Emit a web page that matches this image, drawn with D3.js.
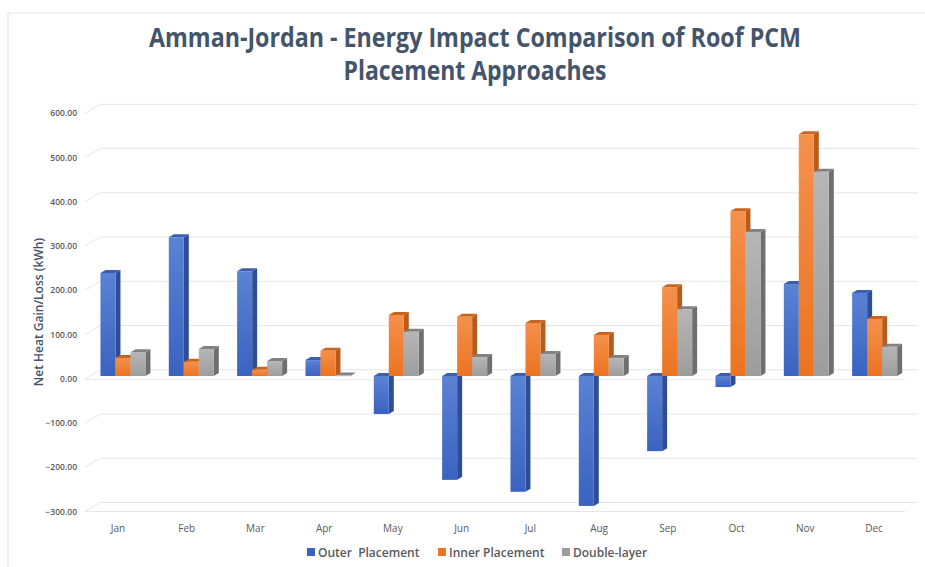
<!DOCTYPE html>
<html>
<head>
<meta charset="utf-8">
<script src="https://cdn.jsdelivr.net/npm/d3@7"></script>
<style>
  html, body { margin: 0; padding: 0; background: #fff; }
  svg { display: block; }
  text { font-family: "Open Sans", "Noto Sans", sans-serif; }
</style>
</head>
<body>
<svg id="chart" width="925" height="567"></svg>
<script>
// Monthly net heat gain/loss (kWh) for three roof PCM placements
const months = ["Jan","Feb","Mar","Apr","May","Jun","Jul","Aug","Sep","Oct","Nov","Dec"];
const outerPlacement = [233, 314, 237, 36, -86, -235, -262, -294, -170, -25, 208, 188];
const innerPlacement = [41, 32, 14, 57, 138, 134, 120, 93, 201, 373, 547, 129];
const doubleLayer    = [54, 61, 34, 1, 100, 43, 50, 41, 151, 326, 462, 66];
const seriesNames = ["Outer  Placement", "Inner Placement", "Double-layer"];
const yTicks = [-300, -200, -100, 0, 100, 200, 300, 400, 500, 600];

const series = [outerPlacement, innerPlacement, doubleLayer];
const palette = [
  { top: "#5a82d4", bottom: "#3a63c0", side: "#2d4d94", cap: "#3b5fae" },
  { top: "#f4904c", bottom: "#eb7421", side: "#b95b1b", cap: "#c8641f" },
  { top: "#b6b6b6", bottom: "#9d9d9d", side: "#6f6f6f", cap: "#828282" }
];

const svg = d3.select("#chart");

// gradients for the front faces
const defs = svg.append("defs");
palette.forEach((p, i) => {
  const g = defs.append("linearGradient").attr("id", "grad" + i)
    .attr("x1", 0).attr("y1", 0).attr("x2", 0).attr("y2", 1);
  g.append("stop").attr("offset", "0%").attr("stop-color", p.top);
  g.append("stop").attr("offset", "100%").attr("stop-color", p.bottom);
});

// outer frame
svg.append("path").attr("d", "M8,567 V13 H925")
  .attr("fill", "none").attr("stroke", "#e3e6ea").attr("stroke-width", 1.2);

// title
const title = svg.append("g").attr("fill", "#44546a")
  .attr("font-weight", 700).attr("font-size", 26).attr("text-anchor", "middle");
const titleLines = ["Amman-Jordan - Energy Impact Comparison of Roof PCM", "Placement Approaches"];
const titleWidths = [652, 263];
titleLines.forEach((t, i) => {
  const el = title.append("text").attr("x", 475).attr("y", 47 + i * 33).text(t);
  const w = el.node().getComputedTextLength();
  if (w > titleWidths[i]) el.attr("textLength", titleWidths[i]).attr("lengthAdjust", "spacingAndGlyphs");
});

// scales: front (labels / floor), bar plane, back wall offset
const yFront = d3.scaleLinear().domain([-300, 600]).range([511.5, 113.3]);
const yBar = d3.scaleLinear().domain([-300, 600]).range([508.6, 110.8]);
const backDx = 15, backDy = -9;
const xLabel = d3.scaleBand().domain(months).range([83.6, 908.4]);
const xBar = d3.scaleBand().domain(months).range([89.8, 909.8]);
const barW = 15, depthX = 5, depthY = -3;

const frontLeft = 85, frontRight = 905, backRight = 918;

// wall gridlines (side wall slant + back wall)
const grid = svg.append("g").attr("stroke", "#e4e6ea").attr("stroke-width", 1).attr("fill", "none");
yTicks.forEach(v => {
  const y = yFront(v);
  grid.append("path").attr("d", `M${frontLeft},${y} L${frontLeft + backDx},${y + backDy} H${backRight}`);
});
// floor front edge and front zero line
grid.append("line").attr("x1", frontLeft).attr("x2", frontRight)
  .attr("y1", yFront(-300)).attr("y2", yFront(-300));
grid.append("line").attr("x1", frontLeft).attr("x2", frontRight)
  .attr("y1", yFront(0) + 1).attr("y2", yFront(0) + 1).attr("stroke", "#e8eaee");

// y tick labels
svg.append("g").attr("font-size", 8.5).attr("font-weight", 600).attr("fill", "#595959").attr("text-anchor", "end")
  .selectAll("text").data(yTicks).join("text")
  .attr("x", 77).attr("y", d => yFront(d) + 3)
  .text(d => d3.format(".2f")(d));

// y axis title
svg.append("text").attr("transform", "translate(43,312) rotate(-90)")
  .attr("text-anchor", "middle").attr("font-size", 12).attr("font-weight", 600)
  .attr("fill", "#44546a").text("Net Heat Gain/Loss (kWh)");

// month labels
svg.append("g").attr("font-size", 10).attr("fill", "#595959").attr("text-anchor", "middle")
  .selectAll("text").data(months).join("text")
  .attr("x", d => xLabel(d) + xLabel.bandwidth() / 2).attr("y", 532)
  .text(d => d);

// 3D columns
const groupW = barW * 3;
const bars = svg.append("g");
months.forEach((m, mi) => {
  const gx = xBar(m) + xBar.bandwidth() / 2 - groupW / 2 - 1;
  series.forEach((s, si) => {
    const v = s[mi];
    const p = palette[si];
    const x = gx + si * barW;
    const y0 = yBar(0), y1 = yBar(v);
    const yt = Math.min(y0, y1), yb = Math.max(y0, y1);
    const g = bars.append("g");
    // right side face
    g.append("path")
      .attr("d", `M${x + barW},${yt} L${x + barW + depthX},${yt + depthY} L${x + barW + depthX},${yb + depthY} L${x + barW},${yb} Z`)
      .attr("fill", p.side);
    // top face
    g.append("path")
      .attr("d", `M${x},${yt} L${x + depthX},${yt + depthY} L${x + barW + depthX},${yt + depthY} L${x + barW},${yt} Z`)
      .attr("fill", p.cap);
    // front face
    g.append("rect").attr("x", x).attr("y", yt).attr("width", barW)
      .attr("height", Math.max(yb - yt, 0.6)).attr("fill", `url(#grad${si})`);
  });
});

// legend
const legendX = [307, 438, 562];
const legend = svg.append("g").attr("font-size", 12).attr("font-weight", 600).attr("fill", "#595959");
seriesNames.forEach((name, i) => {
  legend.append("rect").attr("x", legendX[i]).attr("y", 548).attr("width", 8).attr("height", 8)
    .attr("fill", palette[i].bottom);
  legend.append("text").attr("x", legendX[i] + 11).attr("y", 557)
    .attr("xml:space", "preserve").style("white-space", "pre").text(name);
});
</script>
</body>
</html>
